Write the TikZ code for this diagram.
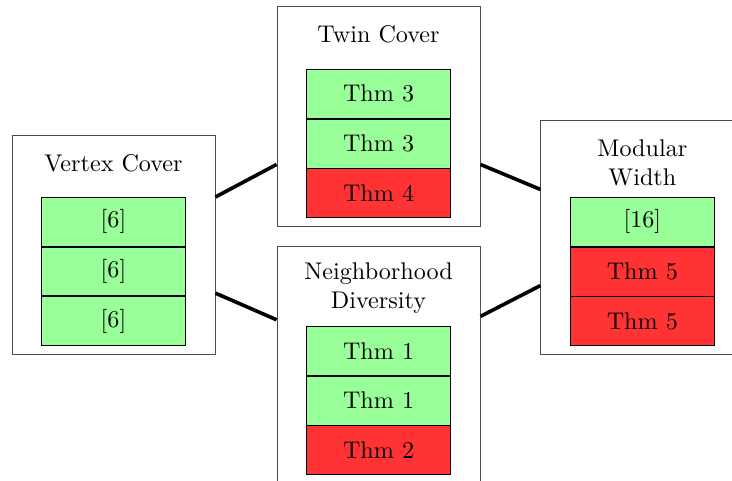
\documentclass[tikz,border=0pt]{standalone}
\usetikzlibrary{positioning}
\begin{document}
\begin{tikzpicture}[
    param/.style={draw=black!70, minimum width=2.955cm, anchor=north},
    cell/.style={draw, minimum width=2.096cm, minimum height=0.71cm, inner sep=0pt},
    yes/.style={cell, fill=green!40},
    no/.style={cell, fill=red!80},
    link/.style={line width=1.5pt}
]
    \useasboundingbox (0, 0) rectangle (10.655, -7.0);

    % Parameter boxes
    \node[param, minimum height=3.19cm] (vc) at (1.652, -1.965) {};
    \node[param, minimum height=3.2cm] (tc) at (5.51, -0.087) {};
    \node[param, minimum height=3.435cm] (nd) at (5.51, -3.58) {};
    \node[param, minimum height=3.406cm] (mw) at (9.35, -1.747) {};

    % Titles
    \node (vctitle) at ([yshift=-0.41cm]vc.north) {Vertex Cover};
    \node (tctitle) at ([yshift=-0.41cm]tc.north) {Twin Cover};
    \node[align=center] (ndtitle) at ([yshift=-0.62cm]nd.north) {Neighborhood\\Diversity};
    \node[align=center] (mwtitle) at ([yshift=-0.626cm]mw.north) {Modular\\Width};

    % Results
    \node[yes, anchor=north] (vc1) at ([yshift=-0.9cm]vc.north) {[6]};
    \node[yes, below=0pt of vc1] (vc2) {[6]};
    \node[yes, below=0pt of vc2] (vc3) {[6]};

    \node[yes, anchor=north] (tc1) at ([yshift=-0.917cm]tc.north) {Thm 3};
    \node[yes, below=0pt of tc1] (tc2) {Thm 3};
    \node[no, below=0pt of tc2] (tc3) {Thm 4};

    \node[yes, anchor=north] (nd1) at ([yshift=-1.165cm]nd.north) {Thm 1};
    \node[yes, below=0pt of nd1] (nd2) {Thm 1};
    \node[no, below=0pt of nd2] (nd3) {Thm 2};

    \node[yes, anchor=north] (mw1) at ([yshift=-1.12cm]mw.north) {[16]};
    \node[no, below=0pt of mw1] (mw2) {Thm 5};
    \node[no, below=0pt of mw2] (mw3) {Thm 5};

    % Links
    \draw[link] ([yshift=0.7cm]vc.east) -- ([yshift=-0.7cm]tc.west);
    \draw[link] ([yshift=-0.7cm]vc.east) -- ([yshift=0.65cm]nd.west);
    \draw[link] ([yshift=-0.7cm]tc.east) -- ([yshift=0.7cm]mw.west);
    \draw[link] ([yshift=0.7cm]nd.east) -- ([yshift=-0.7cm]mw.west);
\end{tikzpicture}
\end{document}
